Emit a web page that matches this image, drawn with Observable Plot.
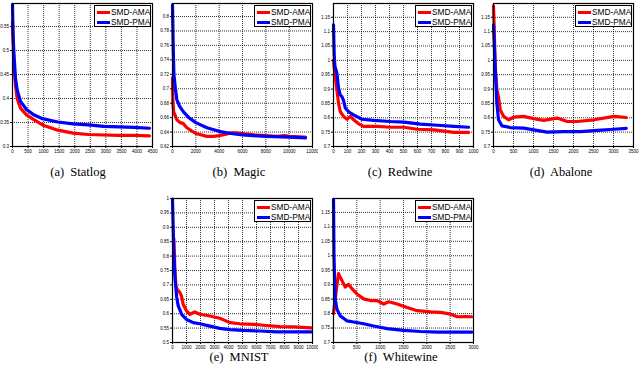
<!DOCTYPE html>
<html><head><meta charset="utf-8">
<script src="https://cdn.jsdelivr.net/npm/d3@7"></script>
<script src="https://cdn.jsdelivr.net/npm/@observablehq/plot@0.6"></script>
<style>
body{margin:0;background:#fff;}
#wrap{position:relative;width:640px;height:373px;overflow:hidden;background:#fff;}
.panel{position:absolute;}
.cap{position:absolute;font-family:"Liberation Serif","DejaVu Serif","Times New Roman",serif;font-size:12.5px;white-space:pre;transform:translateX(-50%);line-height:14px;color:#000;}
.leg{position:absolute;background:#fff;border:0.8px solid #000;font-family:"Liberation Sans",Arial,sans-serif;font-size:8.3px;width:57px;height:22px;box-sizing:border-box;color:#000;}
.row{position:absolute;left:2px;height:10px;display:flex;align-items:center;white-space:nowrap;}
.sw{width:13px;height:3px;margin-right:1px;}
</style></head>
<body><div id="wrap"></div>
<script>
// ---- data ----
const seriesNames = ["SMD-AMA", "SMD-PMA"];
const seriesColors = ["#ff0000", "#0000ff"];
const captions = ["(a)  Statlog", "(b)  Magic", "(c)  Redwine", "(d)  Abalone", "(e)  MNIST", "(f)  Whitewine"];

const statlogXTicks = [0,500,1000,1500,2000,2500,3000,3500,4000,4500];
const statlogYTicks = [0.3,0.35,0.4,0.45,0.5,0.55];
const statlogAMA = [[0,0.56],[20,0.52],[43,0.47],[96,0.428],[150,0.40],[257,0.38],[450,0.366],[685,0.356],[964,0.345],[1456,0.334],[1949,0.328],[2441,0.325],[2934,0.324],[3426,0.323],[3919,0.323],[4400,0.322]];
const statlogPMA = [[0,0.596],[15,0.54],[43,0.497],[96,0.442],[150,0.418],[257,0.394],[450,0.377],[685,0.366],[964,0.358],[1456,0.351],[1949,0.347],[2441,0.345],[2934,0.342],[3426,0.341],[3919,0.34],[4400,0.338]];

const magicXTicks = [0,2000,4000,6000,8000,10000,12000];
const magicYTicks = [0.62,0.64,0.66,0.68,0.7,0.72,0.74,0.76,0.78,0.8];
const magicAMA = [[0,0.715],[40,0.68],[100,0.668],[250,0.662],[370,0.657],[650,0.653],[900,0.652],[1230,0.646],[1600,0.642],[2000,0.638],[2500,0.636],[2950,0.634],[3500,0.634],[4000,0.635],[4600,0.637],[5000,0.639],[5500,0.639],[6000,0.638],[7000,0.636],[8000,0.635],[9000,0.634],[9600,0.635],[10000,0.634],[11400,0.633]];
const magicPMA = [[0,0.816],[60,0.76],[120,0.72],[250,0.70],[370,0.685],[600,0.676],[940,0.668],[1400,0.66],[2000,0.653],[2950,0.646],[4000,0.641],[5000,0.638],[6000,0.636],[8000,0.634],[10000,0.633],[11400,0.632]];

const redwineXTicks = [0,100,200,300,400,500,600,700,800,900,1000];
const redwineYTicks = [0.7,0.75,0.8,0.85,0.9,0.95,1,1.05,1.1,1.15];
const redwineAMA = [[0,1.0],[12,0.944],[24,0.898],[36,0.851],[48,0.822],[72,0.805],[96,0.795],[120,0.805],[144,0.793],[180,0.779],[215,0.77],[311,0.77],[407,0.767],[502,0.767],[598,0.76],[718,0.758],[861,0.749],[965,0.749]];
const redwinePMA = [[0,1.124],[5,1.02],[10,0.98],[24,0.956],[36,0.903],[48,0.88],[60,0.874],[72,0.86],[84,0.834],[110,0.82],[144,0.81],[203,0.795],[287,0.791],[407,0.787],[502,0.785],[622,0.778],[742,0.774],[861,0.77],[965,0.767]];

const abaloneXTicks = [0,500,1000,1500,2000,2500,3000,3500];
const abaloneYTicks = [0.7,0.75,0.8,0.85,0.9,0.95,1,1.05,1.1,1.15];
const abaloneAMA = [[0,1.19],[20,1.1],[42,0.98],[84,0.898],[125,0.874],[167,0.828],[251,0.805],[377,0.793],[503,0.802],[754,0.805],[1005,0.797],[1256,0.791],[1591,0.799],[1843,0.787],[2094,0.787],[2513,0.793],[3015,0.805],[3317,0.801]];
const abalonePMA = [[0,1.124],[42,0.979],[84,0.851],[125,0.793],[209,0.772],[419,0.766],[754,0.764],[1005,0.758],[1340,0.75],[1759,0.752],[2178,0.752],[2597,0.756],[3015,0.76],[3317,0.763]];

const mnistXTicks = [0,1000,2000,3000,4000,5000,6000,7000,8000,9000,10000];
const mnistYTicks = [0.5,0.55,0.6,0.65,0.7,0.75,0.8,0.85,0.9,0.95,1];
const mnistAMA = [[95,0.86],[170,0.755],[240,0.697],[330,0.685],[520,0.674],[640,0.662],[760,0.633],[1000,0.61],[1240,0.598],[1590,0.606],[1950,0.598],[2670,0.592],[3380,0.584],[4100,0.569],[4810,0.565],[5760,0.563],[6710,0.559],[7670,0.555],[8620,0.554],[9930,0.551]];
const mnistPMA = [[0,0.998],[95,0.81],[170,0.73],[290,0.66],[410,0.627],[650,0.598],[1000,0.58],[1480,0.569],[1950,0.565],[2670,0.557],[3380,0.549],[4100,0.545],[5050,0.542],[6240,0.54],[7430,0.537],[8620,0.537],[9930,0.537]];

const whitewineXTicks = [0,500,1000,1500,2000,2500,3000];
const whitewineYTicks = [0.7,0.75,0.8,0.85,0.9,0.95,1,1.05,1.1,1.15];
const whitewineAMA = [[0,0.8],[29,0.839],[72,0.897],[108,0.938],[143,0.927],[179,0.915],[251,0.892],[323,0.901],[395,0.886],[502,0.868],[646,0.851],[789,0.845],[933,0.845],[1076,0.833],[1184,0.841],[1363,0.833],[1579,0.821],[1794,0.81],[2081,0.806],[2296,0.804],[2511,0.798],[2655,0.789],[2835,0.79],[2960,0.789]];
const whitewinePMA = [[0,1.195],[10,1.0],[36,0.85],[72,0.816],[143,0.792],[287,0.775],[430,0.771],[646,0.765],[861,0.757],[1148,0.748],[1507,0.742],[1865,0.738],[2224,0.736],[2583,0.736],[2960,0.736]];

// ---- layout ----
const panels = [
  {cap: captions[0], ama: statlogAMA, pma: statlogPMA, xt: statlogXTicks, yt: statlogYTicks, xd: [0,4500], yd: [0.3,0.598], fx: 12, fy: 3, fw: 140, fh: 143, cx: 78, cy: 172},
  {cap: captions[1], ama: magicAMA, pma: magicPMA, xt: magicXTicks, yt: magicYTicks, xd: [0,12000], yd: [0.62,0.818], fx: 172, fy: 3, fw: 140, fh: 143, cx: 239, cy: 172},
  {cap: captions[2], ama: redwineAMA, pma: redwinePMA, xt: redwineXTicks, yt: redwineYTicks, xd: [0,1000], yd: [0.7,1.198], fx: 333, fy: 3, fw: 140, fh: 143, cx: 400, cy: 172},
  {cap: captions[3], ama: abaloneAMA, pma: abalonePMA, xt: abaloneXTicks, yt: abaloneYTicks, xd: [0,3500], yd: [0.7,1.198], fx: 493, fy: 3, fw: 140, fh: 143, cx: 561, cy: 172},
  {cap: captions[4], ama: mnistAMA, pma: mnistPMA, xt: mnistXTicks, yt: mnistYTicks, xd: [0,10000], yd: [0.5,1], fx: 172, fy: 198, fw: 140, fh: 144, cx: 239, cy: 357},
  {cap: captions[5], ama: whitewineAMA, pma: whitewinePMA, xt: whitewineXTicks, yt: whitewineYTicks, xd: [0,3000], yd: [0.7,1.198], fx: 333, fy: 198, fw: 140, fh: 144, cx: 401, cy: 357}
];

const wrap = document.getElementById("wrap");
const fmt = d3.format("~g");
const gridStyle = {stroke: "#000", strokeOpacity: 0.8, strokeDasharray: "1,1", strokeWidth: 1};

for (const p of panels) {
  const ml = 16, mr = 6, mt = 4, mb = 12;
  const chart = Plot.plot({
    width: p.fw + ml + mr, height: p.fh + mt + mb,
    marginLeft: ml, marginRight: mr, marginTop: mt, marginBottom: mb,
    style: {fontFamily: "Liberation Sans, Arial, sans-serif", fontSize: "4.5px"},
    x: {domain: p.xd},
    y: {domain: p.yd},
    marks: [
      Plot.gridX(p.xt, gridStyle),
      Plot.gridY(p.yt, gridStyle),
      Plot.line(p.ama, {x: d => d[0], y: d => d[1], stroke: seriesColors[0], strokeWidth: 3.2, strokeLinejoin: "round"}),
      Plot.line(p.pma, {x: d => d[0], y: d => d[1], stroke: seriesColors[1], strokeWidth: 3.2, strokeLinejoin: "round"}),
      Plot.frame({stroke: "#000", strokeWidth: 1.2}),
      Plot.axisX(p.xt, {tickSize: 2, tickPadding: 1.5, tickFormat: fmt, label: null, fontSize: 4.5}),
      Plot.axisY(p.yt, {tickSize: 2, tickPadding: 1.5, tickFormat: fmt, label: null, fontSize: 4.5})
    ]
  });
  const holder = document.createElement("div");
  holder.className = "panel";
  holder.style.left = (p.fx - ml) + "px";
  holder.style.top = (p.fy - mt) + "px";
  holder.style.width = (p.fw + ml + mr) + "px";
  holder.appendChild(chart);
  wrap.appendChild(holder);

  // legend box
  const leg = document.createElement("div");
  leg.className = "leg";
  leg.style.left = (p.fx + p.fw - 58) + "px";
  leg.style.top = (p.fy + 2) + "px";
  seriesNames.forEach((name, i) => {
    const row = document.createElement("div");
    row.className = "row";
    row.style.top = (1 + i * 10) + "px";
    const sw = document.createElement("span");
    sw.className = "sw";
    sw.style.background = seriesColors[i];
    const t = document.createElement("span");
    t.textContent = name;
    row.appendChild(sw); row.appendChild(t);
    leg.appendChild(row);
  });
  wrap.appendChild(leg);

  const cap = document.createElement("div");
  cap.className = "cap";
  cap.style.left = p.cx + "px";
  cap.style.top = (p.cy - 7) + "px";
  cap.textContent = p.cap;
  wrap.appendChild(cap);
}
</script></body></html>
